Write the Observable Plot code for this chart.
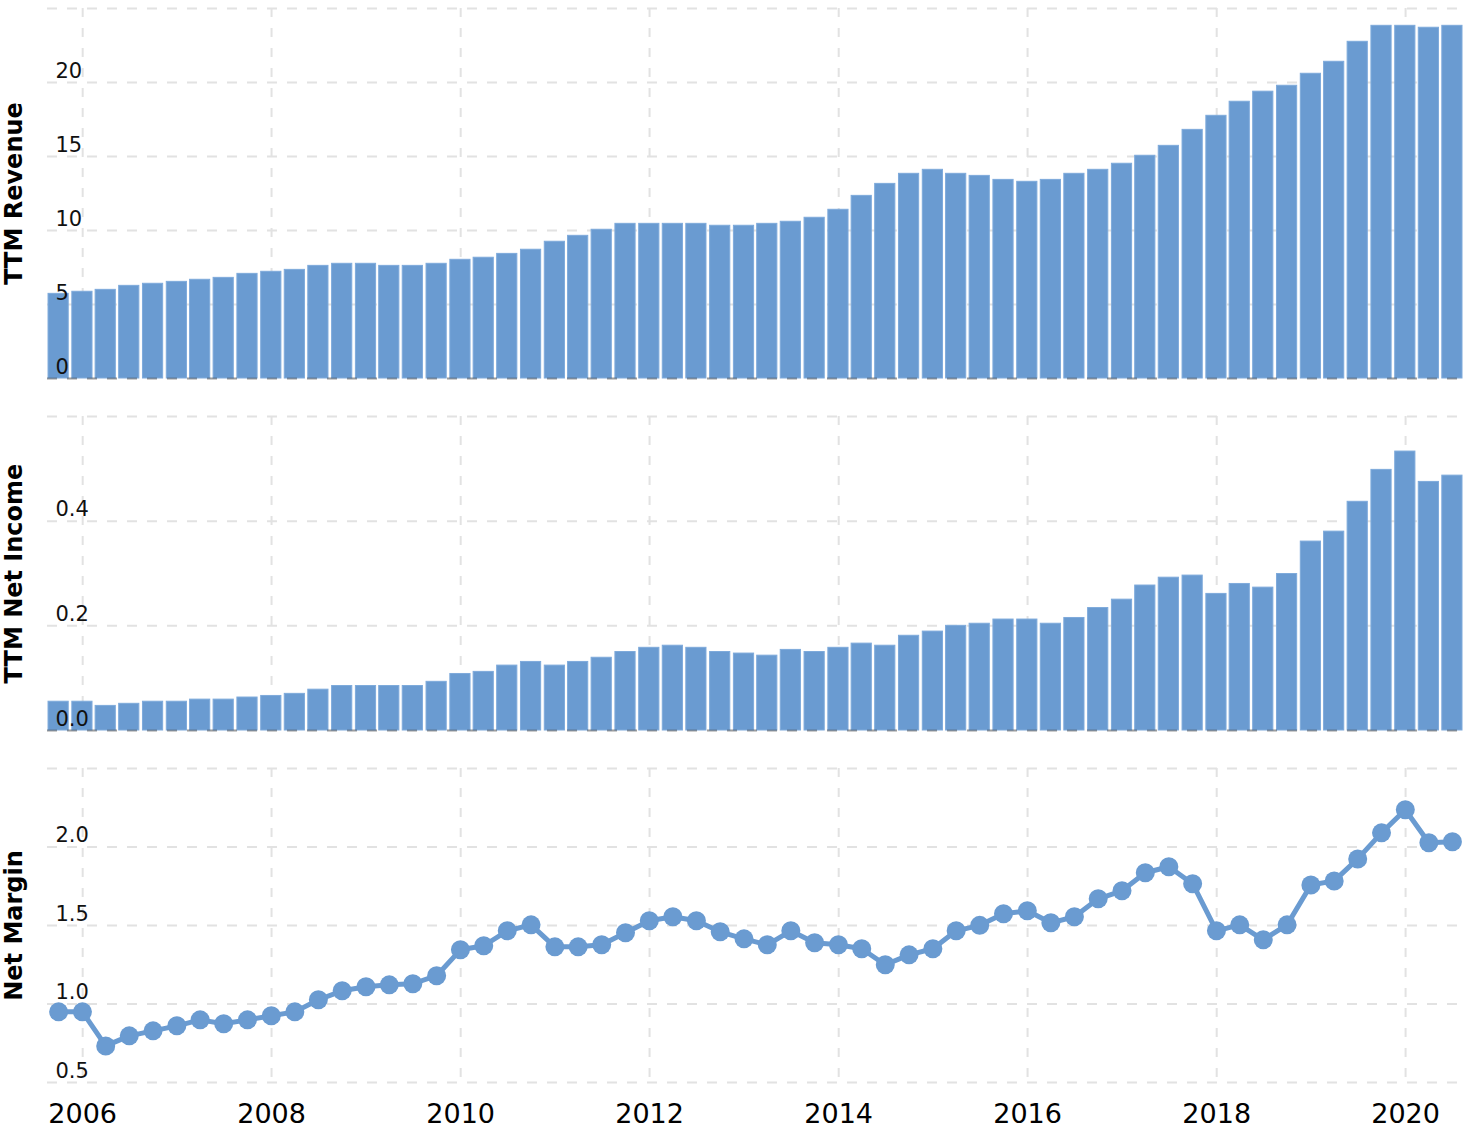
<!DOCTYPE html>
<html>
<head>
<meta charset="utf-8">
<script src="https://cdn.jsdelivr.net/npm/d3@7"></script>
<script src="https://cdn.jsdelivr.net/npm/@observablehq/plot@0.6"></script>
<style>
  html, body { margin: 0; padding: 0; background: #fff; }
  #chart svg { display: block; }
</style>
</head>
<body>
<div id="chart"></div>
<script>
// Quarter-end dates
const dates = [
  "2005-09-30","2005-12-31",
  "2006-03-31","2006-06-30","2006-09-30","2006-12-31",
  "2007-03-31","2007-06-30","2007-09-30","2007-12-31",
  "2008-03-31","2008-06-30","2008-09-30","2008-12-31",
  "2009-03-31","2009-06-30","2009-09-30","2009-12-31",
  "2010-03-31","2010-06-30","2010-09-30","2010-12-31",
  "2011-03-31","2011-06-30","2011-09-30","2011-12-31",
  "2012-03-31","2012-06-30","2012-09-30","2012-12-31",
  "2013-03-31","2013-06-30","2013-09-30","2013-12-31",
  "2014-03-31","2014-06-30","2014-09-30","2014-12-31",
  "2015-03-31","2015-06-30","2015-09-30","2015-12-31",
  "2016-03-31","2016-06-30","2016-09-30","2016-12-31",
  "2017-03-31","2017-06-30","2017-09-30","2017-12-31",
  "2018-03-31","2018-06-30","2018-09-30","2018-12-31",
  "2019-03-31","2019-06-30","2019-09-30","2019-12-31",
  "2020-03-31","2020-06-30"
];

const ttmRevenue = [
  5.72, 5.86, 5.99, 6.26, 6.40, 6.53, 6.67, 6.80, 7.07, 7.21,
  7.34, 7.61, 7.75, 7.75, 7.61, 7.61, 7.75, 8.02, 8.16, 8.42,
  8.70, 9.24, 9.64, 10.05, 10.45, 10.45, 10.45, 10.45, 10.32, 10.32,
  10.45, 10.59, 10.86, 11.40, 12.34, 13.15, 13.83, 14.10, 13.83, 13.69,
  13.42, 13.29, 13.42, 13.83, 14.10, 14.51, 15.05, 15.72, 16.80, 17.75,
  18.70, 19.38, 19.78, 20.59, 21.40, 22.75, 23.83, 23.83, 23.70, 23.83
];

const ttmNetIncome = [
  0.055, 0.055, 0.047, 0.051, 0.055, 0.055, 0.059, 0.059, 0.063, 0.066,
  0.070, 0.078, 0.085, 0.085, 0.085, 0.085, 0.093, 0.108, 0.112, 0.124,
  0.131, 0.124, 0.131, 0.139, 0.150, 0.158, 0.162, 0.158, 0.150, 0.147,
  0.143, 0.154, 0.150, 0.158, 0.166, 0.162, 0.181, 0.189, 0.200, 0.204,
  0.212, 0.212, 0.204, 0.215, 0.234, 0.250, 0.277, 0.292, 0.296, 0.261,
  0.280, 0.273, 0.299, 0.361, 0.380, 0.437, 0.498, 0.533, 0.475, 0.487
];

const netMargin = [
  0.950, 0.950, 0.733, 0.797, 0.829, 0.861, 0.899, 0.874, 0.899, 0.925,
  0.950, 1.027, 1.084, 1.110, 1.122, 1.129, 1.180, 1.345, 1.371, 1.466,
  1.504, 1.364, 1.364, 1.377, 1.454, 1.530, 1.556, 1.530, 1.460, 1.415,
  1.377, 1.466, 1.390, 1.377, 1.352, 1.250, 1.313, 1.352, 1.466, 1.501,
  1.575, 1.594, 1.517, 1.556, 1.670, 1.721, 1.836, 1.874, 1.766, 1.466,
  1.504, 1.409, 1.504, 1.758, 1.784, 1.924, 2.090, 2.237, 2.027, 2.034
];

const xTickYears = ["2006","2008","2010","2012","2014","2016","2018","2020"];
const revenueGrid = [0, 5, 10, 15, 20, 25];
const revenueLabels = ["0", "5", "10", "15", "20"];
const incomeGrid = [0, 0.2, 0.4, 0.6];
const incomeLabels = ["0.0", "0.2", "0.4"];
const marginGrid = [0.5, 1.0, 1.5, 2.0, 2.5];
const marginLabels = ["0.5", "1.0", "1.5", "2.0"];
const titles = ["TTM Revenue", "TTM Net Income", "Net Margin"];

const parse = d3.utcParse("%Y-%m-%d");
const data = dates.map((d, i) => ({
  date: parse(d),
  revenue: ttmRevenue[i],
  income: ttmNetIncome[i],
  margin: netMargin[i]
}));
const xTicks = xTickYears.map(y => d3.utcParse("%Y")(y));

const BLUE = "#6a9bd1";
const W = 1472;
const xScale = {
  type: "utc",
  domain: [parse("2005-08-18"), parse("2020-08-08")],
  axis: null
};
const common = {
  width: W,
  marginLeft: 47,
  marginRight: 10,
  style: { fontFamily: "DejaVu Sans, Verdana, sans-serif", background: "#fff", color: "#000" }
};
const half = 39; // half bar width in days
const x1 = d => d3.utcDay.offset(d.date, -half);
const x2 = d => d3.utcDay.offset(d.date, half);

function grids(gridVals) {
  return [
    Plot.gridY(gridVals, { stroke: "#e2e2e2", strokeOpacity: 1, strokeWidth: 2, strokeDasharray: "10,10" }),
    Plot.gridX(xTicks, { stroke: "#e2e2e2", strokeOpacity: 1, strokeWidth: 2, strokeDasharray: "9,11" })
  ];
}
function labels(vals) {
  return Plot.text(vals, {
    y: d => +d, text: d => d, frameAnchor: "left", textAnchor: "start",
    lineAnchor: "bottom", dx: 8, dy: -5, fontSize: 21, fill: "#111"
  });
}
function title(t) {
  return Plot.text([t], {
    text: d => d, frameAnchor: "left", rotate: -90, dx: -33,
    textAnchor: "middle", lineAnchor: "middle", fontSize: 24, fontWeight: "bold", fill: "#000"
  });
}
function baseline() {
  return Plot.ruleY([0], { stroke: "#000", strokeOpacity: 0.3, strokeWidth: 2, strokeDasharray: "10,10" });
}

const p1 = Plot.plot({
  ...common,
  height: 390, marginTop: 8, marginBottom: 12,
  x: xScale,
  y: { domain: [0, 25], axis: null },
  marks: [
    ...grids(revenueGrid),
    Plot.rectY(data, { x1, x2, y: "revenue", fill: BLUE, stroke: "#7eaadb", strokeWidth: 1 }),
    baseline(),
    labels(revenueLabels),
    title(titles[0])
  ]
});

const p2 = Plot.plot({
  ...common,
  height: 352, marginTop: 26, marginBottom: 12,
  x: xScale,
  y: { domain: [0, 0.6], axis: null },
  marks: [
    ...grids(incomeGrid),
    Plot.rectY(data, { x1, x2, y: "income", fill: BLUE, stroke: "#7eaadb", strokeWidth: 1 }),
    baseline(),
    labels(incomeLabels),
    title(titles[1])
  ]
});

const p3 = Plot.plot({
  ...common,
  height: 386, marginTop: 26, marginBottom: 46,
  x: xScale,
  y: { domain: [0.5, 2.5], axis: null },
  marks: [
    ...grids(marginGrid),
    Plot.line(data, { x: "date", y: "margin", stroke: BLUE, strokeWidth: 5 }),
    Plot.dot(data, { x: "date", y: "margin", r: 9.5, fill: BLUE }),
    labels(marginLabels),
    title(titles[2]),
    Plot.axisX(xTicks, { tickSize: 0, tickPadding: 21, fontSize: 27, tickFormat: "%Y", fill: "#000" })
  ]
});

const el = document.getElementById("chart");
el.append(p1, p2, p3);
</script>
</body>
</html>
